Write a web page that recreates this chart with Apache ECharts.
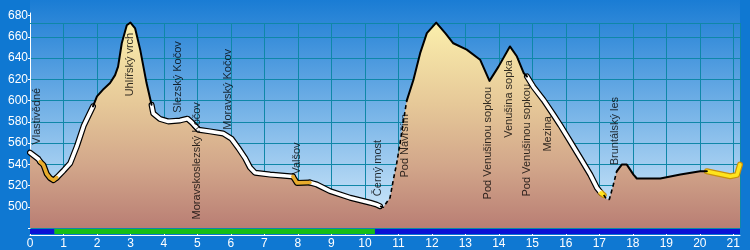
<!DOCTYPE html>
<html><head><meta charset="utf-8">
<script src="https://cdn.jsdelivr.net/npm/echarts@6/dist/echarts.min.js"></script>
<style>html,body{margin:0;padding:0;background:#0f78d2}#c{width:750px;height:250px}</style>
</head><body><div id="c"></div>
<script>
// elevation profile [km, m]
const profile = [
[0.00,551],[0.25,545],[0.30,542.5],[0.40,539.5],[0.50,531],[0.60,527],[0.70,525],[0.75,523.5],
[0.80,527.5],[1.00,534],[1.20,541],[1.40,557],[1.60,576],[1.75,586],[1.88,594.5],[2.00,604],
[2.20,611],[2.39,616.5],[2.54,624],[2.63,632],[2.74,654],[2.89,671],[3.00,673.5],[3.14,668],
[3.29,648],[3.48,616.5],[3.63,596],[3.68,588],[3.88,582.7],[4.13,580.4],[4.48,581.3],[4.70,583],
[4.83,579.5],[5.03,572.6],[5.37,571],[5.77,569],[6.02,564],[6.22,555.4],[6.42,546],[6.57,537],
[6.72,532],[7.17,530.3],[7.50,529.5],[7.85,528.5],[7.97,522.5],[8.36,522.8],[8.56,521],[8.96,514.7],
[9.56,508.5],[10.16,503.8],[10.35,502],[10.45,500.5],[10.55,499.6],[10.60,500],[10.75,508.5],
[10.85,525.6],[10.95,541],[11.05,560],[11.12,575],[11.25,600],[11.45,619.6],[11.65,644.7],
[11.85,663.5],[12.13,673.4],[12.40,663.5],[12.64,654],[13.04,648],[13.44,638.5],[13.72,618.6],
[13.99,632],[14.33,651],[14.54,641.5],[14.74,626],[14.84,622.7],[15.03,613],[15.33,600.7],
[15.63,586.7],[15.83,577],[16.13,561.6],[16.43,546],[16.73,530.3],[16.93,517.8],[17.05,513],
[17.13,511],[17.22,507],[17.30,507],[17.42,521],[17.52,533.4],[17.67,539.7],[17.82,539.7],
[18.02,530.3],[18.12,526.6],[18.82,526.6],[19.42,530.3],[20.01,533.4],[20.21,533.4],[20.41,532],
[20.91,528.8],[21.11,530],[21.20,539.7]
];
// route segment styles [fromKm, toKm]
const whiteSegs = [[0,0.30],[0.80,1.88],[3.63,7.85],[8.36,10.45],[14.84,17.05]];
const orangeSegs = [[0.30,0.80],[7.85,8.36]];
const yellowSegs = [[17.05,17.13],[20.21,21.20]];
const blackSegs = [[1.88,3.63],[11.25,14.84],[17.52,20.21]];
const dashedSegs = [[10.45,11.25],[17.13,17.52]];
// surface strip [fromKm, toKm, color]
const surfaceSegs = [[0,0.73,'#0a12d6'],[0.73,10.3,'#16be16'],[10.3,21.2,'#0a12d6']];
// waypoints
const waypointNames = ['Vlastivědné','Uhlířský vrch','Slezský Kočov','Moravskoslezský Kočov','Moravský Kočov','Valšov','Černý most','Pod Návrším','Pod Venušinou sopkou','Venušina sopka','Pod Venušinou sopkou','Mezina','Bruntálský les'];
const waypointKm = [0.22,2.99,4.41,4.98,5.92,7.97,10.40,11.20,13.68,14.31,14.85,15.47,17.47];
const waypointElev = [558.5,604,588.6,488,572.6,530.3,510,527.5,506.9,565,509.7,552,539];
const routeLength = 21.2;

const FONT = '"Liberation Sans", Arial, sans-serif';
const TEAL = '#0f87a8';
const sub = (a,b) => profile.filter(p => p[0] >= a - 1e-9 && p[0] <= b + 1e-9);
const lineSeries = (segs, color, width, extra) => segs.map(([a,b]) => Object.assign({
  type:'line', xAxisIndex:2, yAxisIndex:2, data: sub(a,b), symbol:'none', silent:true, z:3,
  lineStyle:{color, width, cap:'round', join:'round'}
}, extra||{}));

const series = [];
series.push({
  type:'line', xAxisIndex:2, yAxisIndex:2, data: profile, symbol:'none', silent:true, z:2,
  lineStyle:{width:0},
  areaStyle:{origin:'start', opacity:1, color:new echarts.graphic.LinearGradient(0,0,0,1,[
    {offset:0,color:'#fbefac'},{offset:0.4,color:'#e6c898'},{offset:0.7,color:'#d2a68a'},{offset:1,color:'#b97e74'}])}
});
series.push(...lineSeries(whiteSegs,'#000',6));
series.push(...lineSeries(orangeSegs,'#000',6));
series.push(...lineSeries(yellowSegs,'#c8900e',6));
series.push(...lineSeries(whiteSegs,'#ffffff',3.6));
series.push(...lineSeries(orangeSegs,'#e8ac2c',3.6));
series.push(...lineSeries(yellowSegs,'#ffe41c',3.6));
series.push(...lineSeries(blackSegs,'#000',2));
series.push(...lineSeries(dashedSegs,'#000',1.6,{lineStyle:{color:'#000',width:1.6,type:[4,3]}}));
series.push({
  type:'scatter', xAxisIndex:2, yAxisIndex:2, symbolSize:1, silent:true, z:20, zlevel:1,
  itemStyle:{color:'rgba(0,0,0,0)'},
  data: waypointNames.map((n,i)=>[waypointKm[i], waypointElev[i], n]),
  label:{show:true, position:'inside', formatter:p=>p.data[2], rotate:90, align:'left', verticalAlign:'middle',
    color:'#000', fontSize:11, fontFamily:FONT},
  labelLayout:{hideOverlap:false}
});
surfaceSegs.forEach(([a,b,c]) => series.push({
  type:'line', xAxisIndex:3, yAxisIndex:3, data:[[a,0.5],[b,0.5]], symbol:'none', silent:true,
  lineStyle:{color:c, width:5, cap:'butt'}
}));

const L = 30, R = 750 - 30 - routeLength*33.49;
const option = {
  backgroundColor:'#0f78d2',
  animation:false,
  grid:[
    {left:L, right:R, top:0, bottom:22, show:true, borderWidth:0,
      backgroundColor:new echarts.graphic.LinearGradient(0,0,0,1,[{offset:0,color:'#1a7cd4'},{offset:1,color:'#d6ecfb'}])},
    {left:L, right:R, top:23, bottom:22},
    {left:L, right:R, top:13, bottom:22},
    {left:L, right:R, top:228, bottom:15}
  ],
  xAxis:[
    {gridIndex:0, type:'value', min:0, max:routeLength, show:false},
    {gridIndex:1, type:'value', min:0, max:routeLength, interval:1, position:'top',
      axisLine:{show:true, lineStyle:{color:TEAL}}, axisTick:{show:false}, axisLabel:{show:false},
      splitLine:{show:true, lineStyle:{color:TEAL, width:1}}},
    {gridIndex:2, type:'value', min:0, max:routeLength, show:false},
    {gridIndex:3, type:'value', min:0, max:routeLength, interval:1,
      axisLine:{show:true, lineStyle:{color:'#fff', width:1}},
      axisTick:{show:true, inside:true, length:3, lineStyle:{color:'#fff'}},
      axisLabel:{color:'#fff', fontSize:12, fontFamily:FONT, margin:3, showMaxLabel:false,
        formatter:v=>Number.isInteger(v)?String(v):''},
      splitLine:{show:false}}
  ],
  yAxis:[
    {gridIndex:0, type:'value', min:0, max:1, show:false},
    {gridIndex:1, type:'value', min:480, max:673.1, interval:20,
      axisLine:{show:false}, axisTick:{show:false}, axisLabel:{show:false},
      splitLine:{show:true, lineStyle:{color:TEAL, width:1}}},
    {gridIndex:2, type:'value', min:480, max:682.5, interval:20,
      axisLine:{show:true, lineStyle:{color:'#fff', width:1}},
      axisTick:{show:true, length:2, lineStyle:{color:'#fff'}},
      axisLabel:{color:'#fff', fontSize:12, fontFamily:FONT, margin:2, showMaxLabel:false,
        formatter:v=>(v>=500 && v%20===0)?String(v):''},
      splitLine:{show:false}},
    {gridIndex:3, type:'value', min:0, max:1, show:false}
  ],
  series
};
const chart = echarts.init(document.getElementById('c'), null, {renderer:'canvas'});
chart.setOption(option);
</script></body></html>
